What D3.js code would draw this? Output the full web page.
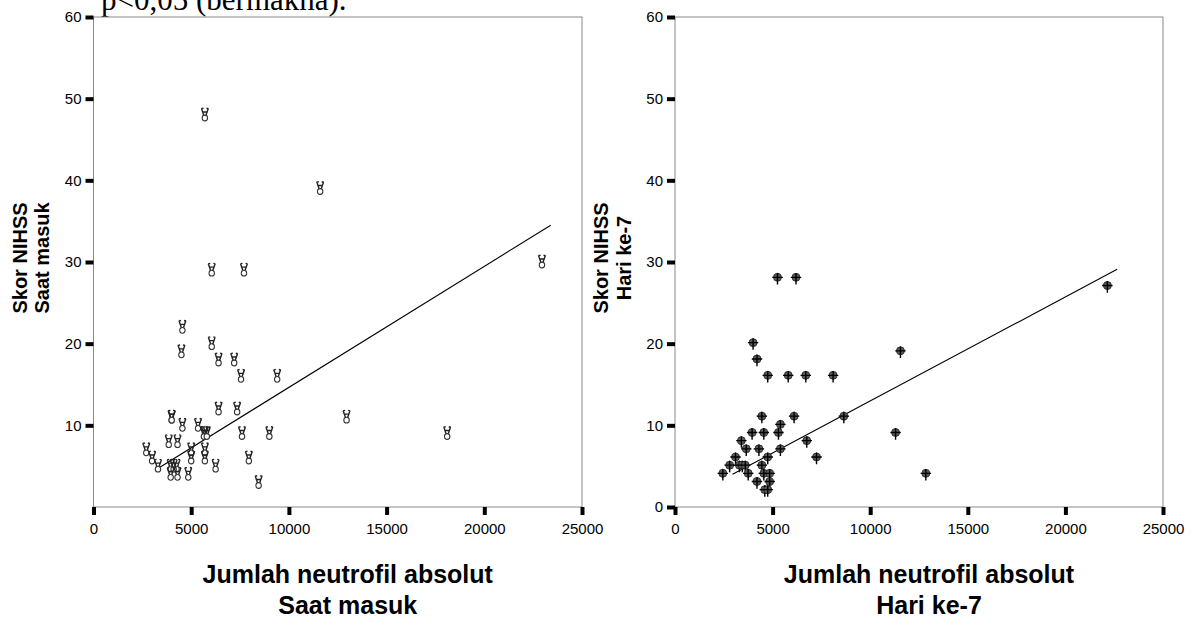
<!DOCTYPE html>
<html>
<head>
<meta charset="utf-8">
<script src="https://cdn.jsdelivr.net/npm/d3@7"></script>
<style>
  body { margin: 0; background: #fff; }
  text { font-family: "Liberation Sans", Arial, sans-serif; }
  .title { font-weight: bold; fill: #000; }
</style>
</head>
<body>
<div id="chart"></div>
<script>
const w = 1195;
const h = 621;

// axis ticks
const xTicks = [0, 5000, 10000, 15000, 20000, 25000];
const yTicksLeft = [10, 20, 30, 40, 50, 60];
const yTicksRight = [0, 10, 20, 30, 40, 50, 60];

// Saat masuk: neutrofil vs NIHSS
const admX = [5700, 11600, 6050, 7700, 22950, 4550, 6050, 4500, 6400, 7200, 7550, 9400,
  6400, 7350, 4000, 4000, 12950, 4550, 5350, 5700, 5650, 5800, 7600, 9000, 18100,
  3850, 4300, 2700, 5000, 5700, 3000, 5000, 5700, 7950, 3300, 3950, 4250, 4100, 6250,
  3950, 4300, 4850, 8450];
const admY = [48, 39, 29, 29, 30, 22, 20, 19, 18, 18, 16, 16,
  12, 12, 11, 11, 11, 10, 10, 9, 9, 9, 9, 9, 9,
  8, 8, 7, 7, 7, 6, 6, 6, 6, 5, 5, 5, 5, 5,
  4, 4, 4, 3];
const admFitX = [3150, 23400];
const admFitY = [4.5, 34.5];

// Hari ke-7
const d7X = [4000, 4200, 4750, 5800, 6700, 8100, 5250, 6200, 22150, 11550, 11300, 12850,
  4450, 5400, 6100, 8650, 3950, 4550, 5300, 3400, 6750, 3650, 4300, 5400, 7250, 3100,
  4750, 2800, 3300, 3450, 3600, 4450, 2450, 3750, 4550, 4850, 4200, 4850, 4600, 4750];
const d7Y = [20, 18, 16, 16, 16, 16, 28, 28, 27, 19, 9, 4,
  11, 10, 11, 11, 9, 9, 9, 8, 8, 7, 7, 7, 6, 6,
  6, 5, 5, 5, 5, 5, 4, 4, 4, 4, 3, 3, 2, 2];
const d7FitX = [2950, 22650];
const d7FitY = [4.0, 29.1];

const svg = d3.select("#chart")
.append('svg')
.attr('width', w)
.attr('height', h);

// cut-off line of text above the figure
svg.append('text')
.attr('x', 101).attr('y', 10)
.style('font-family', '"Liberation Serif", "Times New Roman", serif')
.style('font-size', '31px')
.text('p<0,05 (bermakna).');

function panel(x0, x1, xs, ys, fitX, fitY, yTicks, yTitle, xTitle, marker){
    const top = 17, bottom = 507;
    const xScale = d3.scaleLinear().domain([0, 25000]).range([x0, x1]);
    const yScale = d3.scaleLinear().domain([0, 60]).range([bottom, top]);
    const g = svg.append('g');

    //frame
    g.append('rect')
    .attr('x', x0).attr('y', top)
    .attr('width', x1 - x0).attr('height', bottom - top)
    .attr('fill', 'none').attr('stroke', '#8a8a8a').attr('stroke-width', 1);

    //x axis ticks
    const xAxis = d3.axisBottom(xScale).tickValues(xTicks).tickSize(8).tickPadding(8).tickFormat(d3.format('d'));
    const gx = g.append('g').attr('transform', `translate(0,${bottom})`).call(xAxis);
    gx.select('.domain').remove();
    gx.selectAll('line').attr('stroke', '#000').attr('stroke-width', 4);
    gx.selectAll('text').style('font-size', '15px').style('font-family', '"Liberation Sans", Arial, sans-serif');

    //y axis ticks
    const yAxis = d3.axisLeft(yScale).tickValues(yTicks).tickSize(8).tickPadding(4);
    const gy = g.append('g').attr('transform', `translate(${x0},0)`).call(yAxis);
    gy.select('.domain').remove();
    gy.selectAll('line').attr('stroke', '#000').attr('stroke-width', 4);
    gy.selectAll('text').style('font-size', '15px').style('font-family', '"Liberation Sans", Arial, sans-serif');

    //fit line
    g.append('line')
    .attr('x1', xScale(fitX[0])).attr('y1', yScale(fitY[0]))
    .attr('x2', xScale(fitX[1])).attr('y2', yScale(fitY[1]))
    .attr('stroke', '#000').attr('stroke-width', 1.1);

    //points
    const pts = g.append('g').selectAll('.dot')
    .data(xs.map((d, i) => [d, ys[i]]))
    .enter()
    .append('g')
    .attr('class', 'dot')
    .attr('transform', d => `translate(${xScale(d[0])},${yScale(d[1])})`);
    marker(pts);

    //titles
    const cx = (x0 + x1) / 2;
    const xt = g.append('text').attr('class', 'title')
    .attr('text-anchor', 'middle').style('font-size', '25px');
    xt.append('tspan').attr('x', cx + 10).attr('y', 583).text(xTitle[0]);
    xt.append('tspan').attr('x', cx + 10).attr('y', 614).text(xTitle[1]);

    const yt = g.append('text').attr('class', 'title')
    .attr('text-anchor', 'middle').style('font-size', '20px')
    .attr('transform', `translate(${x0 - 67},258) rotate(-90)`);
    yt.append('tspan').attr('x', 0).attr('y', 0).text(yTitle[0]);
    yt.append('tspan').attr('x', 0).attr('y', 22.6).text(yTitle[1]);
}

//victory-hand like glyph used on the first panel
function handMarker(sel){
    sel.append('path')
    .attr('d', 'M-3.4,-6.5 L-1,0.5 M3.4,-6.5 L1,0.5 M-3.6,-6.3 L-1.4,-6.8 M3.6,-6.3 L1.6,-6.8 M-2.4,-3 L2.4,-3')
    .attr('stroke', '#222').attr('stroke-width', 1.4).attr('fill', 'none');
    sel.append('ellipse')
    .attr('cx', 0).attr('cy', 3).attr('rx', 2.7).attr('ry', 2.9)
    .attr('fill', '#fff').attr('stroke', '#333').attr('stroke-width', 1.1);
}

//circle with cross
function crossMarker(sel){
    sel.append('circle')
    .attr('cx', 0).attr('cy', -1).attr('r', 4)
    .attr('fill', '#5a5a5a').attr('stroke', '#222').attr('stroke-width', 0.8);
    sel.append('path')
    .attr('d', 'M-5.2,-1 L5.2,-1 M0,-5.4 L0,6.2')
    .attr('stroke', '#000').attr('stroke-width', 1.4);
}

panel(93.5, 582, admX, admY, admFitX, admFitY, yTicksLeft,
    ['Skor NIHSS', 'Saat masuk'], ['Jumlah neutrofil absolut', 'Saat masuk'], handMarker);
panel(675, 1163, d7X, d7Y, d7FitX, d7FitY, yTicksRight,
    ['Skor NIHSS', 'Hari ke-7'], ['Jumlah neutrofil absolut', 'Hari ke-7'], crossMarker);
</script>
</body>
</html>
